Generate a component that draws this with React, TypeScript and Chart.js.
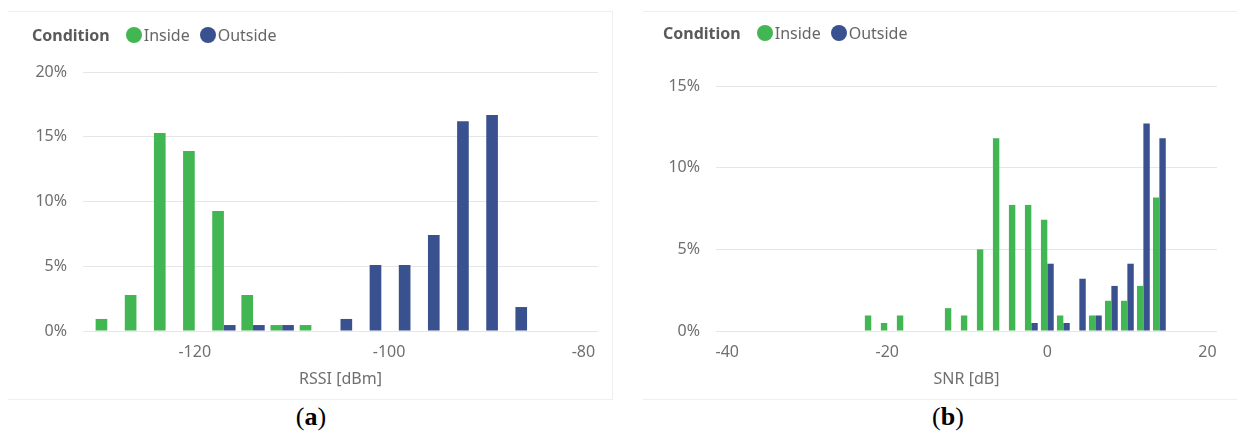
import React, { useEffect, useRef } from 'react';
import { Chart, registerables } from 'chart.js';

Chart.register(...registerables);

// ---------- data ----------
const rssiBins = [-129, -126, -123, -120, -117, -114, -111, -108, -105, -102, -99, -96, -93, -90, -87];
const rssiInside = [0.93, 2.78, 15.28, 13.89, 9.26, 2.78, 0.46, 0.46, 0, 0, 0, 0, 0, 0, 0];
const rssiOutside = [0, 0, 0, 0, 0.46, 0.46, 0.46, 0, 0.93, 5.09, 5.09, 7.41, 16.2, 16.67, 1.85];
const rssiXTicks = [-120, -100, -80];
const rssiYTicks = [0, 5, 10, 15, 20];

const snrBins = [-22, -20, -18, -12, -10, -8, -6, -4, -2, 0, 2, 4, 6, 8, 10, 12, 14];
const snrInside = [0.95, 0.49, 0.95, 1.4, 0.95, 5.0, 11.8, 7.72, 7.72, 6.81, 0.95, 0, 0.95, 1.85, 1.85, 2.76, 8.17];
const snrOutside = [0, 0, 0, 0, 0, 0, 0, 0, 0.49, 4.12, 0.49, 3.2, 0.95, 2.76, 4.12, 12.7, 11.8];
const snrXTicks = [-40, -20, 0, 20];
const snrYTicks = [0, 5, 10, 15];

const seriesNames = ['Inside', 'Outside'];
const legendTitle = 'Condition';

const GREEN = '#41b653';
const BLUE = '#3a5190';
const FONT = '"Noto Sans", "Open Sans", sans-serif';
const TICK_COLOR = '#6f6f6f';

type HistProps = {
  bins: number[];
  inside: number[];
  outside: number[];
  xTicks: number[];
  yTicks: number[];
  xMin: number;
  xMax: number;
  yMax: number;
  xTitle: string;
  width: number;
  height: number;
  yWidth: number;
  padRight: number;
  padTop: number;
};

function Hist(p: HistProps) {
  const ref = useRef<HTMLCanvasElement | null>(null);
  useEffect(() => {
    if (!ref.current) return;
    const chart = new Chart(ref.current, {
      type: 'bar',
      data: {
        datasets: [
          {
            label: seriesNames[0],
            data: p.bins.map((b, i) => ({ x: b, y: p.inside[i] })),
            backgroundColor: GREEN,
            borderWidth: 0,
          },
          {
            label: seriesNames[1],
            data: p.bins.map((b, i) => ({ x: b, y: p.outside[i] })),
            backgroundColor: BLUE,
            borderWidth: 0,
          },
        ],
      },
      options: {
        responsive: false,
        animation: false,
        events: [],
        categoryPercentage: 0.8,
        barPercentage: 1.0,
        layout: { padding: { left: 0, right: p.padRight, top: p.padTop, bottom: 0 } },
        plugins: { legend: { display: false }, tooltip: { enabled: false } },
        scales: {
          x: {
            type: 'linear',
            offset: false,
            min: p.xMin,
            max: p.xMax,
            grid: { display: false, drawTicks: false, offset: false },
            border: { display: false },
            afterBuildTicks: (s: any) => {
              s.ticks = p.xTicks.map((v) => ({ value: v }));
            },
            afterFit: (s: any) => {
              s.height = 69;
            },
            ticks: {
              padding: 12,
              color: TICK_COLOR,
              font: { family: FONT, size: 16 },
              maxRotation: 0,
              autoSkip: false,
              callback: (v: any) => String(v),
            },
            title: {
              display: true,
              text: p.xTitle,
              color: TICK_COLOR,
              font: { family: FONT, size: 16 },
              padding: { top: 0, bottom: 11 },
            },
          },
          y: {
            type: 'linear',
            min: 0,
            max: p.yMax,
            grid: { color: '#e6e6e6', lineWidth: 1, drawTicks: false },
            border: { display: false },
            afterBuildTicks: (s: any) => {
              s.ticks = p.yTicks.map((v) => ({ value: v }));
            },
            afterFit: (s: any) => {
              s.width = p.yWidth;
            },
            ticks: {
              padding: 16,
              color: TICK_COLOR,
              font: { family: FONT, size: 16 },
              callback: (v: any) => v + '%',
            },
          },
        },
      },
    } as any);
    return () => chart.destroy();
  }, []);
  return <canvas ref={ref} width={p.width} height={p.height} style={{ width: p.width, height: p.height, display: 'block' }} />;
}

function Legend({ left, top }: { left: number; top: number }) {
  const dot = (c: string) => (
    <span style={{ display: 'inline-block', width: 16, height: 16, borderRadius: 8, background: c, marginRight: 2 }} />
  );
  return (
    <div
      style={{
        position: 'absolute',
        left,
        top,
        height: 24,
        display: 'flex',
        alignItems: 'center',
        fontFamily: FONT,
        fontSize: 16,
        color: '#666',
        whiteSpace: 'nowrap',
      }}
    >
      <span style={{ fontWeight: 700, color: '#5a5a5a', marginRight: 16 }}>{legendTitle}</span>
      {dot(GREEN)}
      <span style={{ marginRight: 10 }}>{seriesNames[0]}</span>
      {dot(BLUE)}
      <span>{seriesNames[1]}</span>
    </div>
  );
}

function Caption({ cx, letter }: { cx: number; letter: string }) {
  return (
    <div
      style={{
        position: 'absolute',
        left: cx - 30,
        width: 60,
        top: 402,
        textAlign: 'center',
        fontFamily: '"Liberation Serif", "Times New Roman", serif',
        fontSize: 26,
        color: '#000',
      }}
    >
      (<b>{letter}</b>)
    </div>
  );
}

export default function App() {
  return (
    <div style={{ position: 'absolute', left: 0, top: 0, width: 1237, height: 435, background: '#fff', overflow: 'hidden' }}>
      {/* left panel */}
      <div
        style={{
          position: 'absolute',
          left: 8,
          top: 11,
          width: 605,
          height: 389,
          borderTop: '1px solid #efefef',
          borderRight: '1px solid #efefef',
          borderBottom: '1px solid #efefef',
          boxSizing: 'border-box',
        }}
      />
      <div style={{ position: 'absolute', left: 8, top: 11 }}>
        <Hist
          bins={rssiBins}
          inside={rssiInside}
          outside={rssiOutside}
          xTicks={rssiXTicks}
          yTicks={rssiYTicks}
          xMin={-131.5}
          xMax={-78.5}
          yMax={20}
          xTitle="RSSI [dBm]"
          width={605}
          height={389}
          yWidth={75}
          padRight={15}
          padTop={61}
        />
      </div>
      <Legend left={32} top={23} />
      <Caption cx={311} letter="a" />

      {/* right panel */}
      <div
        style={{
          position: 'absolute',
          left: 643,
          top: 11,
          width: 600,
          height: 389,
          borderTop: '1px solid #efefef',
          borderBottom: '1px solid #efefef',
          boxSizing: 'border-box',
        }}
      />
      <div style={{ position: 'absolute', left: 643, top: 11 }}>
        <Hist
          bins={snrBins}
          inside={snrInside}
          outside={snrOutside}
          xTicks={snrXTicks}
          yTicks={snrYTicks}
          xMin={-41.4}
          xMax={21.2}
          yMax={15}
          xTitle="SNR [dB]"
          width={594}
          height={389}
          yWidth={73}
          padRight={20}
          padTop={75}
        />
      </div>
      <Legend left={663} top={21} />
      <Caption cx={948} letter="b" />
    </div>
  );
}
